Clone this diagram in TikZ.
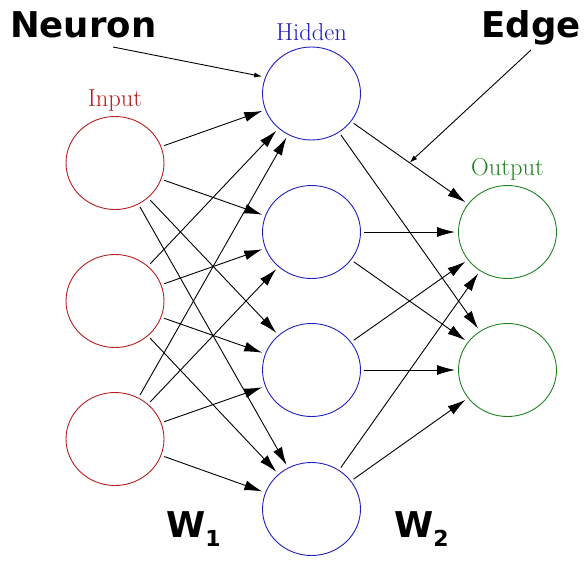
\documentclass[tikz,border=0pt]{standalone}
\usepackage{fontspec}
\newfontfamily\lblfont{DejaVu Sans}
\usetikzlibrary{shapes.geometric,arrows.meta,calc}
\definecolor{inred}{RGB}{180,30,30}
\definecolor{hblue}{RGB}{30,30,190}
\definecolor{ogreen}{RGB}{30,130,30}
\begin{document}
\begin{tikzpicture}[x=1pt,y=-1pt,
  neuron/.style={draw, ellipse, minimum width=98pt, minimum height=93pt, inner sep=0pt, outer sep=3.5pt, line width=0.9pt},
  inneuron/.style={neuron, draw=inred},
  hidneuron/.style={neuron, draw=hblue},
  outneuron/.style={neuron, draw=ogreen},
  edge/.style={-{Latex[length=18pt,width=10pt]}, line width=0.9pt},
  pointer/.style={-{Latex[length=8pt,width=5pt]}, line width=0.9pt},
  layerlbl/.style={font=\fontsize{24.5}{28}\selectfont, anchor=base, inner sep=0pt},
  biglbl/.style={font=\lblfont\bfseries\fontsize{35.5}{40}\selectfont, inner sep=0pt, anchor=base west}]
\useasboundingbox (0,0) rectangle (588,570);
% neurons
\node[inneuron] (i1) at (115,163) {};
\node[inneuron] (i2) at (115,301) {};
\node[inneuron] (i3) at (115,439) {};
\node[hidneuron] (h1) at (311.5,93.5) {};
\node[hidneuron] (h2) at (311.5,232) {};
\node[hidneuron] (h3) at (311.5,370) {};
\node[hidneuron] (h4) at (311.5,509) {};
\node[outneuron] (o1) at (507.5,232) {};
\node[outneuron] (o2) at (507.5,370) {};
% layer labels
\node[layerlbl, text=inred] (linput) at (115,106) {Input};
\node[layerlbl, text=hblue] (lhidden) at (311.5,40) {Hidden};
\node[layerlbl, text=ogreen] (loutput) at (507.5,175) {Output};
% edges
\foreach \i in {1,2,3}{
  \foreach \h in {1,2,3,4}{
    \draw[edge] (i\i) -- (h\h);
  }
}
\foreach \h in {1,2,3,4}{
  \foreach \o in {1,2}{
    \draw[edge] (h\h) -- (o\o);
  }
}
% annotations
\node[biglbl] (neuron) at (10,37) {Neuron};
\node[biglbl, anchor=base east] (edgelbl) at (581,37) {Edge};
\node[biglbl] (w1) at (166,537) {W\raisebox{-9pt}{\fontsize{22}{22}\selectfont 1}};
\node[biglbl] (w2) at (394,537) {W\raisebox{-9pt}{\fontsize{22}{22}\selectfont 2}};
\coordinate (ns) at (113,47);
\coordinate (es) at (531,50);
\coordinate (emid) at ($(h1)!0.5!(o1)$);
\draw[pointer] (ns) -- (h1.161);
\draw[pointer] (es) -- (emid);
\end{tikzpicture}
\end{document}
